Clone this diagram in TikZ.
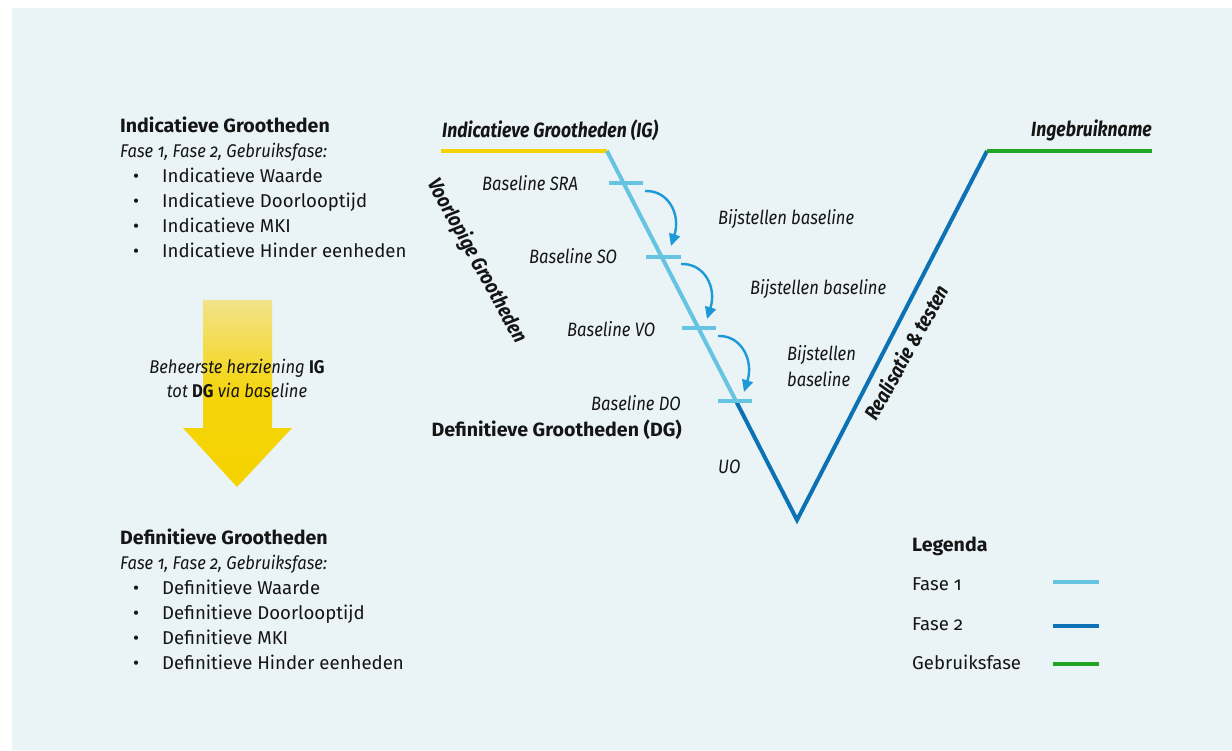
\documentclass[tikz,border=0pt]{standalone}
\usepackage{fontspec}
\setmainfont{Fira Sans}[Numbers=OldStyle]
\usetikzlibrary{arrows.meta}
\definecolor{bgc}{HTML}{EAF3F5}
\definecolor{txt}{HTML}{151515}
\definecolor{ltblue}{HTML}{66C4E2}
\definecolor{dkblue}{HTML}{0B72B6}
\definecolor{grn}{HTML}{22A524}
\definecolor{ylw}{HTML}{F5D300}
\definecolor{arrblue}{HTML}{1B9AD7}
\definecolor{paleylw}{HTML}{F2E38A}
\begin{document}
\begin{tikzpicture}[x=1pt,y=-1pt,
  every node/.style={inner sep=0pt, text=txt, font=\fontsize{18.6}{22}\selectfont},
  bodytext/.style={anchor=base west},
  rtext/.style={anchor=base east},
  ititle/.style={font=\fontsize{20.6}{24}\selectfont\bfseries\itshape\addfontfeatures{FakeStretch=0.855}},
  btitle/.style={font=\fontsize{19.2}{22}\selectfont\bfseries\addfontfeatures{FakeStretch=1.02}},
  itext/.style={font=\fontsize{18.4}{22}\selectfont\itshape\addfontfeatures{FakeStretch=0.9}},
  vtext/.style={font=\fontsize{19.3}{25}\selectfont\itshape\addfontfeatures{FakeStretch=0.86}},
  phase/.style={line width=4pt},
  tickmark/.style={line width=3.5pt, ltblue},
  adjust/.style={arrblue, line width=2.4pt, -{Triangle[length=12pt,width=11pt]}},
  legline/.style={line width=4pt}
]
\useasboundingbox (0,0) rectangle (1232,751);
\fill[bgc] (12,8) rectangle (1232,750);

% ---- left top block
\node[bodytext, btitle] (igt) at (120,133) {Indicatieve Grootheden};
\node[bodytext, itext] (igf) at (120,158) {Fase 1, Fase 2, Gebruiksfase:};
\node[bodytext] (iga) at (133,183) {\makebox[29pt][l]{•}Indicatieve Waarde};
\node[bodytext] (igb) at (133,208) {\makebox[29pt][l]{•}Indicatieve Doorlooptijd};
\node[bodytext] (igc) at (133,233) {\makebox[29pt][l]{•}Indicatieve MKI};
\node[bodytext] (igd) at (133,258) {\makebox[29pt][l]{•}Indicatieve Hinder eenheden};

% ---- big yellow arrow
\shade[top color=paleylw, bottom color=ylw, middle color=ylw!92!paleylw]
  (203,300) -- (272,300) -- (272,428) -- (292,428) -- (237,487) -- (183,428) -- (203,428) -- cycle;
\node[itext, align=center, anchor=center] (herz) at (237,378)
  {Beheerste herziening {\upshape\bfseries IG}\\[2pt]tot {\upshape\bfseries DG} via baseline};

% ---- left bottom block
\node[bodytext, btitle] (dgt) at (120,544) {Definitieve Grootheden};
\node[bodytext, itext] (dgf) at (120,569) {Fase 1, Fase 2, Gebruiksfase:};
\node[bodytext] (dga) at (133,594) {\makebox[29pt][l]{•}Definitieve Waarde};
\node[bodytext] (dgb) at (133,619) {\makebox[29pt][l]{•}Definitieve Doorlooptijd};
\node[bodytext] (dgc) at (133,644) {\makebox[29pt][l]{•}Definitieve MKI};
\node[bodytext] (dgd) at (133,669) {\makebox[29pt][l]{•}Definitieve Hinder eenheden};

% ---- V model
\coordinate (ig0) at (441,151);
\coordinate (ig1) at (607,151);
\coordinate (dop) at (736,401);
\coordinate (bot) at (797,520);
\coordinate (top) at (987,151);
\coordinate (ge1) at (1152,151);
\draw[phase, ylw] (ig0) -- (ig1);
\draw[phase, ltblue] (ig1) -- (dop);
\draw[phase, dkblue, line join=miter] (dop) -- (bot) -- (top);
\draw[phase, grn] (top) -- (ge1);

% ticks
\coordinate (sraL) at (609,183); \coordinate (sraR) at (643,183);
\coordinate (soL) at (646,257);  \coordinate (soR) at (681,257);
\coordinate (voL) at (682,328);  \coordinate (voR) at (716,328);
\coordinate (doL) at (718,401);  \coordinate (doR) at (752,401);
\draw[tickmark] (sraL) -- (sraR);
\draw[tickmark] (soL) -- (soR);
\draw[tickmark] (voL) -- (voR);
\draw[tickmark] (doL) -- (doR);

% adjustment arrows
\coordinate (a1s) at (645,191); \coordinate (a1e) at (671,246);
\coordinate (a2s) at (681,264); \coordinate (a2e) at (707,319);
\coordinate (a3s) at (718,336); \coordinate (a3e) at (744,392);
\draw[adjust] (a1s) .. controls (668,190) and (681,214) .. (a1e);
\draw[adjust] (a2s) .. controls (704,263) and (717,287) .. (a2e);
\draw[adjust] (a3s) .. controls (741,335) and (754,360) .. (a3e);

% labels
\node[bodytext, ititle] (igl) at (442,138) {Indicatieve Grootheden (IG)};
\node[rtext, ititle] (ing) at (1152,137) {Ingebruikname};
\node[bodytext, vtext] (bsra) at (482,191) {Baseline SRA};
\node[bodytext, vtext] (bso) at (529,264) {Baseline SO};
\node[bodytext, vtext] (bvo) at (567,337) {Baseline VO};
\node[rtext, vtext] (bdo) at (681,410) {Baseline DO};
\node[rtext, btitle] (dgl) at (682,436) {Definitieve Grootheden (DG)};
\node[bodytext, vtext] (uo) at (718,473) {UO};
\node[bodytext, vtext] (bij1) at (718,225) {Bijstellen baseline};
\node[bodytext, vtext] (bij2) at (750,295) {Bijstellen baseline};
\node[bodytext, vtext] (bij3) at (787,361) {Bijstellen};
\node[bodytext, vtext] (bij3b) at (787,386) {baseline};
\node[ititle, rotate=-61, anchor=center] (voorl) at (477,261) {Voorlopige Grootheden};
\node[ititle, rotate=61, anchor=center] (real) at (906,352) {Realisatie \& testen};

% legend
\node[bodytext, btitle] (leg) at (912,551) {Legenda};
\node[bodytext] (lf1) at (912,590) {Fase 1};
\node[bodytext] (lf2) at (912,630) {Fase 2};
\node[bodytext] (lgb) at (912,669) {Gebruiksfase};
\coordinate (l1a) at (1053,582); \coordinate (l1b) at (1099,582);
\coordinate (l2a) at (1053,626); \coordinate (l2b) at (1099,626);
\coordinate (l3a) at (1053,664); \coordinate (l3b) at (1099,664);
\draw[legline, ltblue] (l1a) -- (l1b);
\draw[legline, dkblue] (l2a) -- (l2b);
\draw[legline, grn] (l3a) -- (l3b);
\end{tikzpicture}
\end{document}
